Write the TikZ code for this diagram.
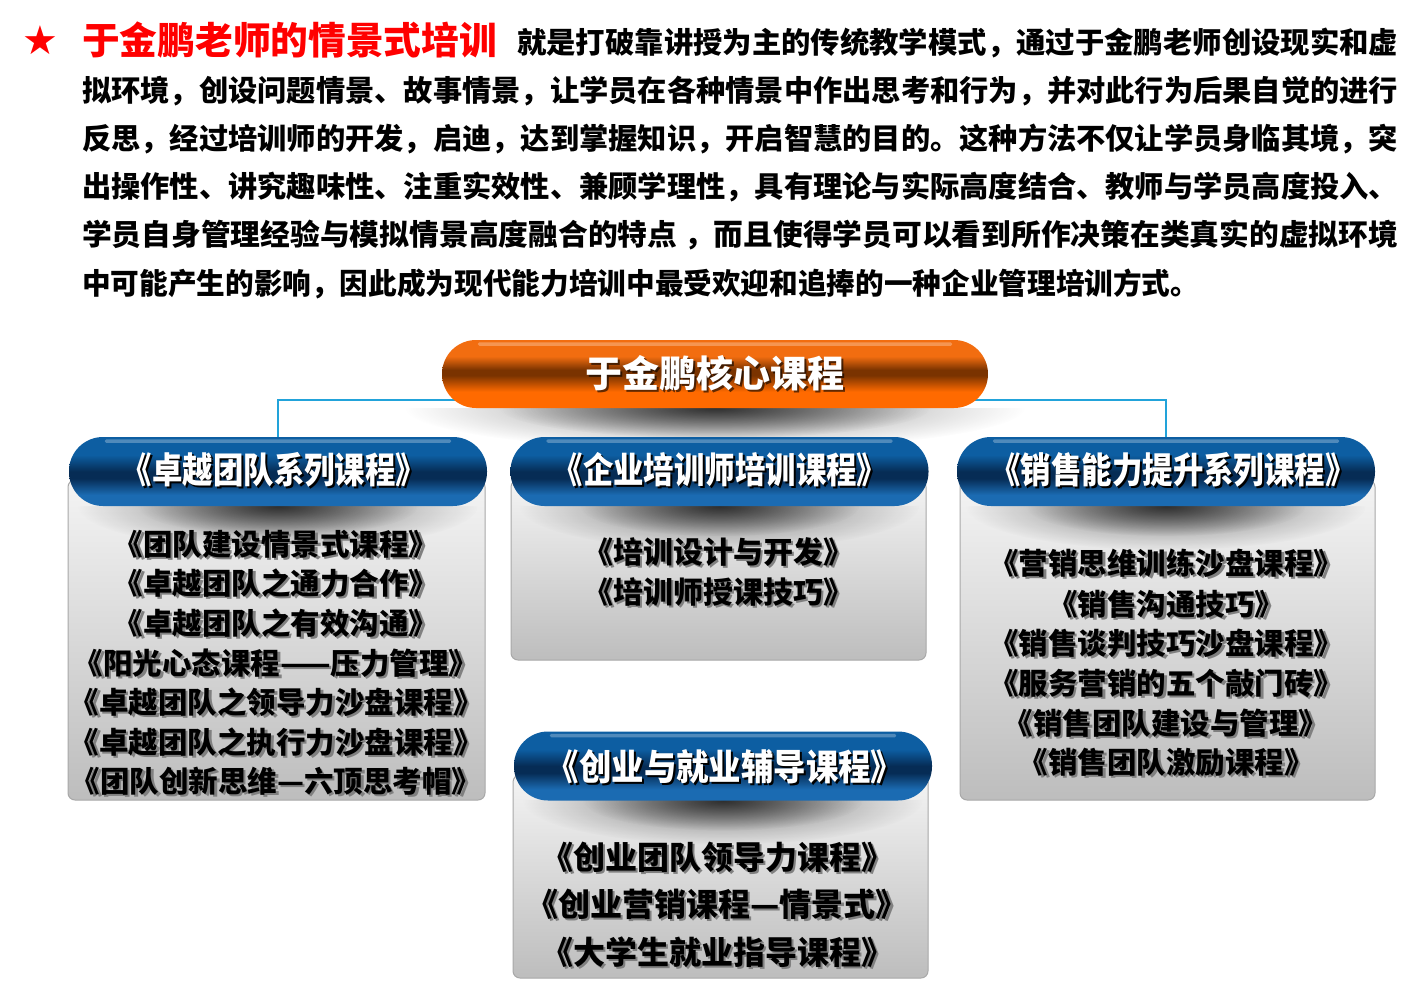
\documentclass[tikz,border=0pt]{standalone}
\usepackage{fontspec}
\usepackage{graphicx}
\usetikzlibrary{fadings}
\newfontfamily\cjk{Noto Sans CJK SC}
\newfontfamily\symf{DejaVu Sans}
\definecolor{orTop}{HTML}{F26D10}
\definecolor{orMid}{HTML}{7A3300}
\definecolor{orBot}{HTML}{FF6A00}
\definecolor{blTop}{HTML}{0D5EA2}
\definecolor{blMid}{HTML}{062C55}
\definecolor{blBot}{HTML}{1B6BB2}
\definecolor{connC}{HTML}{22A3DA}
\definecolor{boxTop}{HTML}{F4F4F4}
\definecolor{boxBot}{HTML}{BDBDBD}
\definecolor{boxLine}{HTML}{A8A8A8}
\definecolor{redT}{HTML}{FF0000}
\pgfdeclareverticalshading{orangeP}{100bp}{color(0bp)=(orBot); color(25bp)=(orBot); color(37bp)=(orBot); color(49bp)=(orMid); color(53bp)=(orMid); color(63bp)=(orTop); color(75bp)=(orTop); color(100bp)=(orTop)}
\pgfdeclareverticalshading{blueP}{100bp}{color(0bp)=(blBot); color(25bp)=(blBot); color(33bp)=(blBot); color(45bp)=(blMid); color(50bp)=(blMid); color(62bp)=(blTop); color(75bp)=(blTop); color(100bp)=(blTop)}
\tikzfading[name=shfade, inner color=transparent!0, outer color=transparent!100]
\pgfdeclarelayer{paper}
\pgfdeclarelayer{boxes}
\pgfdeclarelayer{shadows}
\pgfsetlayers{paper,boxes,shadows,main}
\newcommand\shtext[6]{%
  \node[#3, text=#4, xshift=#5, yshift=-#5] at #2 {#6};
  \node[#3] (#1) at #2 {#6};}
\begin{document}
\begin{tikzpicture}[x=1pt,y=-1pt,
  opill/.style={shade, shading=orangeP, rounded corners=34pt, inner sep=0pt, minimum width=546pt, minimum height=68pt},
  bpill/.style={shade, shading=blueP, rounded corners=34pt, inner sep=0pt, minimum width=418pt, minimum height=69pt},
  gbox/.style={draw=boxLine, line width=1pt, top color=boxTop, bottom color=boxBot, rounded corners=7pt, inner sep=0pt},
  conn/.style={draw=connC, line width=2pt},
  gloss/.style={fill=white, fill opacity=.28},
  para/.style={anchor=west, inner sep=0pt, text=black, font=\cjk\bfseries\fontsize{29.3pt}{30pt}\selectfont},
  itm/.style={inner sep=0pt, text=black, font=\cjk\bfseries\fontsize{29.5pt}{30pt}\selectfont},
  itmM/.style={inner sep=0pt, text=black, font=\cjk\bfseries\fontsize{30pt}{31pt}\selectfont},
  itmB/.style={inner sep=0pt, text=black, font=\cjk\bfseries\fontsize{32pt}{33pt}\selectfont},
  hdr/.style={inner sep=0pt, text=white, font=\cjk\bfseries\fontsize{36pt}{37pt}\selectfont},
  shd/.style={fill=black, path fading=shfade}]
\begin{pgfonlayer}{paper}
\fill[white] (0,0) rectangle (1420,992);
\end{pgfonlayer}
\useasboundingbox (0,0) rectangle (1420,992);

% ---- top paragraph ----
\node[inner sep=0pt, text=redT, font=\symf\fontsize{40pt}{40pt}\selectfont] (star) at (40,40) {★};
\node[anchor=west, inner sep=0pt, text=redT, font=\cjk\bfseries\fontsize{37.7pt}{38pt}\selectfont] (title) at (82,40) {于金鹏老师的情景式培训};
\node[para] (p1) at (517,43) {\resizebox{881pt}{\height}{就是打破靠讲授为主的传统教学模式，通过于金鹏老师创设现实和虚}};
\node[para] (p2) at (82,91) {\resizebox{1316pt}{\height}{拟环境，创设问题情景、故事情景，让学员在各种情景中作出思考和行为，并对此行为后果自觉的进行}};
\node[para] (p3) at (82,139) {\resizebox{1316pt}{\height}{反思，经过培训师的开发，启迪，达到掌握知识，开启智慧的目的。这种方法不仅让学员身临其境，突}};
\node[para] (p4) at (82,187) {\resizebox{1316pt}{\height}{出操作性、讲究趣味性、注重实效性、兼顾学理性，具有理论与实际高度结合、教师与学员高度投入、}};
\node[para] (p5) at (82,235) {\resizebox{1316pt}{\height}{学员自身管理经验与模拟情景高度融合的特点 ，而且使得学员可以看到所作决策在类真实的虚拟环境}};
\node[para] (p6) at (82,284) {\resizebox{1117pt}{\height}{中可能产生的影响，因此成为现代能力培训中最受欢迎和追捧的一种企业管理培训方式。}};

% ---- pills ----
\node[opill] (core) at (715,374) {};
\node[bpill] (h1) at (278,471.5) {};
\node[bpill] (h2) at (719.5,471.5) {};
\node[bpill] (h3) at (1166,471.5) {};
\node[bpill] (h4) at (723,766) {};

% ---- boxes ----
\begin{pgfonlayer}{boxes}
\node[gbox, minimum width=417pt, minimum height=320pt] (b1) at (276.5,640) {};
\node[gbox, minimum width=415pt, minimum height=180pt] (b2) at (718.5,570) {};
\node[gbox, minimum width=415pt, minimum height=320pt] (b3) at (1167.5,640) {};
\node[gbox, minimum width=415pt, minimum height=203pt] (b4) at (720.5,876.5) {};
\end{pgfonlayer}

% ---- shadows and connectors ----
\begin{pgfonlayer}{shadows}
\draw[conn] ([yshift=-26pt]core.center) -| (h1.north);
\draw[conn] ([yshift=-26pt]core.center) -| (h3.north);
\begin{scope}
\clip ([xshift=-330pt]core.south) rectangle ([xshift=330pt,yshift=-50pt]core.south);
\fill[shd, fill opacity=.45] (core.south) ellipse [x radius=310pt, y radius=42pt];
\fill[shd, fill opacity=.65] (core.south) ellipse [x radius=215pt, y radius=30pt];
\end{scope}
\foreach \h in {h1,h2,h3,h4}{
\begin{scope}
\clip ([xshift=-205pt]\h.south) rectangle ([xshift=205pt,yshift=-60pt]\h.south);
\fill[shd, fill opacity=.5] (\h.south) ellipse [x radius=200pt, y radius=44pt];
\fill[shd, fill opacity=.6] (\h.south) ellipse [x radius=140pt, y radius=30pt];
\end{scope}}
\end{pgfonlayer}

% ---- gloss highlights ----
\foreach \n in {core,h1,h2,h3,h4}{
\fill[gloss, rounded corners=1.5pt] ([xshift=36pt,yshift=-2.5pt]\n.north west) rectangle ([xshift=-36pt,yshift=-6pt]\n.north east);}

% ---- pill titles ----
\node[inner sep=0pt, text=black, text opacity=.6, xshift=2pt, yshift=-2pt, font=\cjk\bfseries\fontsize{37pt}{38pt}\selectfont] at (715,373) {于金鹏核心课程};
\node[inner sep=0pt, text=white, font=\cjk\bfseries\fontsize{37pt}{38pt}\selectfont] (coreT) at (715,373) {于金鹏核心课程};
\shtext{h1T}{(274,470)}{hdr}{black}{2pt}{\scalebox{0.845}[1]{《卓越团队系列课程》}}
\shtext{h2T}{(720,470)}{hdr}{black}{2pt}{\scalebox{0.845}[1]{《企业培训师培训课程》}}
\shtext{h3T}{(1173,470)}{hdr}{black}{2pt}{\scalebox{0.845}[1]{《销售能力提升系列课程》}}
\shtext{h4T}{(725,767)}{hdr}{black}{2pt}{\scalebox{0.9}[1]{《创业与就业辅导课程》}}

% ---- left items ----
\shtext{a1}{(276,544)}{itm}{gray}{2.5pt}{《团队建设情景式课程》}
\shtext{a2}{(276,583)}{itm}{gray}{2.5pt}{《卓越团队之通力合作》}
\shtext{a3}{(276,623)}{itm}{gray}{2.5pt}{《卓越团队之有效沟通》}
\shtext{a4}{(276,663)}{itm}{gray}{2.5pt}{《阳光心态课程——压力管理》}
\shtext{a5}{(276,702)}{itm}{gray}{2.5pt}{《卓越团队之领导力沙盘课程》}
\shtext{a6}{(276,742)}{itm}{gray}{2.5pt}{《卓越团队之执行力沙盘课程》}
\shtext{a7}{(276,781)}{itm}{gray}{2.5pt}{《团队创新思维—六顶思考帽》}

% ---- middle items ----
\shtext{m1}{(718,552)}{itmM}{gray}{2.5pt}{《培训设计与开发》}
\shtext{m2}{(718,592)}{itmM}{gray}{2.5pt}{《培训师授课技巧》}

% ---- right items ----
\shtext{r1}{(1166,563)}{itm}{gray}{2.5pt}{《营销思维训练沙盘课程》}
\shtext{r2}{(1166,604)}{itm}{gray}{2.5pt}{《销售沟通技巧》}
\shtext{r3}{(1166,643)}{itm}{gray}{2.5pt}{《销售谈判技巧沙盘课程》}
\shtext{r4}{(1166,683)}{itm}{gray}{2.5pt}{《服务营销的五个敲门砖》}
\shtext{r5}{(1166,723)}{itm}{gray}{2.5pt}{《销售团队建设与管理》}
\shtext{r6}{(1166,762)}{itm}{gray}{2.5pt}{《销售团队激励课程》}

% ---- bottom items ----
\shtext{d1}{(717,857)}{itmB}{gray}{2.5pt}{《创业团队领导力课程》}
\shtext{d2}{(717,904)}{itmB}{gray}{2.5pt}{《创业营销课程—情景式》}
\shtext{d3}{(717,952)}{itmB}{gray}{2.5pt}{《大学生就业指导课程》}
\end{tikzpicture}
\end{document}
